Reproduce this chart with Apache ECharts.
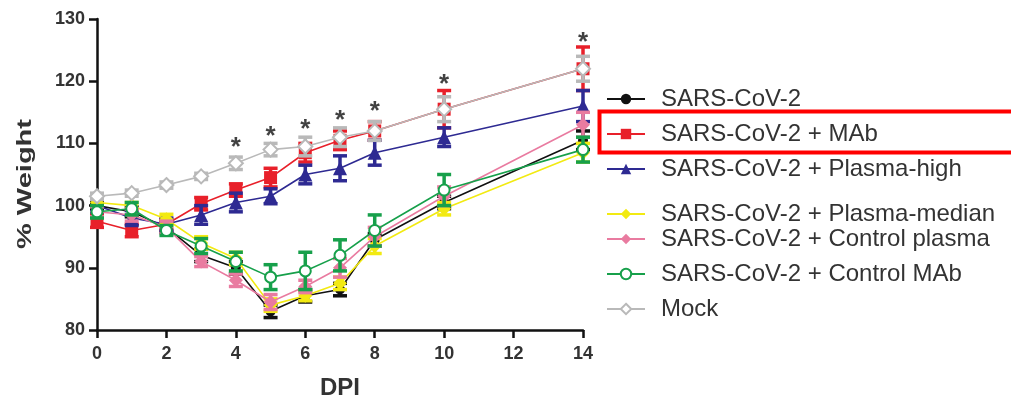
<!DOCTYPE html>
<html>
<head>
<meta charset="utf-8">
<script src="https://cdn.jsdelivr.net/npm/echarts@6/dist/echarts.min.js"></script>
<style>
  html, body { margin: 0; padding: 0; background: #fff; }
  #chart { width: 1011px; height: 398px; }
</style>
</head>
<body>
<div id="chart"></div>
<script>
// days post infection
var days = [0, 1, 2, 3, 4, 5, 6, 7, 8, 10, 14];
var xTicks = [0, 2, 4, 6, 8, 10, 12, 14];
var yTicks = [80, 90, 100, 110, 120, 130];

// mean % weight per group
var sarsCov2      = [100, 99, 96.5, 92, 90, 83, 85.5, 86.5, 94.5, 100.5, 110.5];
var mab           = [97.5, 96, 97, 100.3, 102.5, 104.5, 108.5, 110.5, 112, 115.5, 122];
var plasmaHigh    = [100, 98, 97, 98.5, 100.5, 101.5, 105, 106, 108.5, 111, 116];
var plasmaMedian  = [100.5, 100, 97.8, 94, 91.5, 84, 85.5, 87.5, 93.5, 99.5, 108.5];
var controlPlasma = [99, 98.5, 96.5, 91, 88, 84.5, 87, 90, 95, 101.5, 113];
var controlMab    = [99, 99.5, 96, 93.5, 91, 88.5, 89.5, 92, 96, 102.5, 109];
var mock          = [101.5, 102, 103.3, 104.7, 106.8, 109, 109.5, 111, 112, 115.5, 122];

// error (SEM) per group
var sarsCov2Err      = [0.5, 0.8, 0.8, 1, 1, 1, 1, 1, 1, 1, 1.5];
var mabErr           = [1, 1, 0.8, 1, 1, 1.5, 1.5, 1.5, 1.5, 3, 3.5];
var plasmaHighErr    = [1, 1.2, 1, 1.5, 1.5, 1.2, 1.5, 2, 2, 1.5, 2.5];
var plasmaMedianErr  = [0.5, 0.5, 0.8, 1, 1, 1, 0.8, 1, 1.2, 1, 1.5];
var controlPlasmaErr = [0.8, 1, 1, 0.8, 1, 1.2, 1, 1.5, 1.5, 1.5, 2];
var controlMabErr    = [1, 1, 0.8, 1.2, 1.5, 2, 3, 2.5, 2.5, 2.5, 2];
var mockErr          = [0.5, 0.5, 0.5, 0.5, 1, 1, 1.5, 1.5, 1.5, 2, 2];

// significance marks
var starDays   = [4, 5, 6, 7, 8, 10, 14];
var starValues = [110.5, 112.3, 113.4, 114.9, 116.3, 120.7, 127.4];

var groups = [
  { name: 'SARS-CoV-2', data: sarsCov2, err: sarsCov2Err, color: '#111111', symbol: 'circle', size: 10 },
  { name: 'SARS-CoV-2 + MAb', data: mab, err: mabErr, color: '#e8202a', symbol: 'rect', size: 13 },
  { name: 'SARS-CoV-2 + Plasma-high', data: plasmaHigh, err: plasmaHighErr, color: '#2e2a92', symbol: 'triangle', size: 14 },
  { name: 'SARS-CoV-2 + Plasma-median', data: plasmaMedian, err: plasmaMedianErr, color: '#f2ea12', symbol: 'diamond', size: 14 },
  { name: 'SARS-CoV-2 + Control plasma', data: controlPlasma, err: controlPlasmaErr, color: '#e97ba0', symbol: 'diamond', size: 14 },
  { name: 'SARS-CoV-2 + Control MAb', data: controlMab, err: controlMabErr, color: '#17a04b', symbol: 'emptyCircle', size: 11 },
  { name: 'Mock', data: mock, err: mockErr, color: '#b9b9b9', symbol: 'emptyDiamond', size: 14 }
];

// legend rows (centre y)
var legendRows = [98, 133, 168, 213, 238, 273, 308];

var series = [];
groups.forEach(function (g, k) {
  // error bars
  series.push({
    type: 'custom',
    z: 2 + k * 2,
    silent: true,
    data: days.map(function (d, i) { return [d, g.data[i] - g.err[i], g.data[i] + g.err[i]]; }),
    renderItem: function (params, api) {
      var lo = api.coord([api.value(0), api.value(1)]);
      var hi = api.coord([api.value(0), api.value(2)]);
      var w = 7;
      var st = { stroke: g.color, lineWidth: 3.5 };
      return {
        type: 'group',
        children: [
          { type: 'line', shape: { x1: lo[0], y1: lo[1], x2: hi[0], y2: hi[1] }, style: st },
          { type: 'line', shape: { x1: lo[0] - w, y1: lo[1], x2: lo[0] + w, y2: lo[1] }, style: st },
          { type: 'line', shape: { x1: hi[0] - w, y1: hi[1], x2: hi[0] + w, y2: hi[1] }, style: st }
        ]
      };
    }
  });
  series.push({
    name: g.name,
    type: 'line',
    z: 3 + k * 2,
    data: days.map(function (d, i) { return [d, g.data[i]]; }),
    symbol: g.symbol,
    symbolSize: g.size,
    lineStyle: { color: g.color, width: 1.6 },
    itemStyle: { color: g.color, borderColor: g.color, borderWidth: g.symbol.indexOf('empty') === 0 ? 3 : 0 }
  });
});

// asterisks
series.push({
  type: 'scatter',
  z: 20,
  symbolSize: 1,
  itemStyle: { color: 'rgba(0,0,0,0)' },
  data: starDays.map(function (d, i) { return [d, starValues[i]]; }),
  label: {
    show: true,
    position: 'inside',
    formatter: '*',
    fontSize: 26,
    fontWeight: 'bold',
    color: '#111',
    offset: [0, 8]
  }
});

var legends = groups.map(function (g, i) {
  return {
    data: [g.name],
    left: 606,
    top: legendRows[i] - 11,
    orient: 'vertical',
    itemWidth: 38,
    itemHeight: 13,
    padding: 0,
    selectedMode: false,
    textStyle: { fontSize: 24, color: '#333', fontFamily: 'Liberation Sans, Arial', padding: [0, 0, 0, 11] }
  };
});

var myChart = echarts.init(document.getElementById('chart'));
var option = {
  animation: false,
  backgroundColor: '#fff',
  grid: { left: 97, right: 428, top: 19, bottom: 68, containLabel: false, outerBoundsMode: 'none' },
  xAxis: {
    type: 'value',
    min: xTicks[0],
    max: xTicks[xTicks.length - 1],
    interval: 2,
    name: 'DPI',
    nameLocation: 'middle',
    nameGap: 46,
    nameTextStyle: { fontSize: 24, fontWeight: 'bold', color: '#333', fontFamily: 'Liberation Sans, Arial' },
    splitLine: { show: false },
    axisLine: { lineStyle: { color: '#111', width: 2.5 } },
    axisTick: { lineStyle: { color: '#111', width: 2.5 }, length: 8 },
    axisLabel: { fontSize: 18, fontWeight: 'bold', color: '#333', margin: 15, fontFamily: 'Liberation Sans, Arial' }
  },
  yAxis: {
    type: 'value',
    min: yTicks[0],
    max: yTicks[yTicks.length - 1],
    interval: 10,
    splitLine: { show: false },
    axisLine: { show: true, lineStyle: { color: '#111', width: 2.5 } },
    axisTick: { show: true, lineStyle: { color: '#111', width: 2.5 }, length: 8 },
    axisLabel: { fontSize: 18, fontWeight: 'bold', color: '#333', margin: 12, fontFamily: 'Liberation Sans, Arial' }
  },
  legend: legends,
  graphic: [{
    type: 'text',
    x: 25,
    y: 184,
    rotation: Math.PI / 2,
    scaleX: 1.45,
    style: {
      text: '% Weight',
      font: 'bold 20px "Liberation Sans", Arial',
      fill: '#333',
      textAlign: 'center',
      textVerticalAlign: 'middle'
    }
  }, {
    type: 'rect',
    left: 597,
    top: 109,
    shape: { width: 430, height: 41 },
    style: { fill: 'none', stroke: '#ff0000', lineWidth: 4 },
    z: 100
  }],
  series: series
};
myChart.setOption(option);
</script>
</body>
</html>
